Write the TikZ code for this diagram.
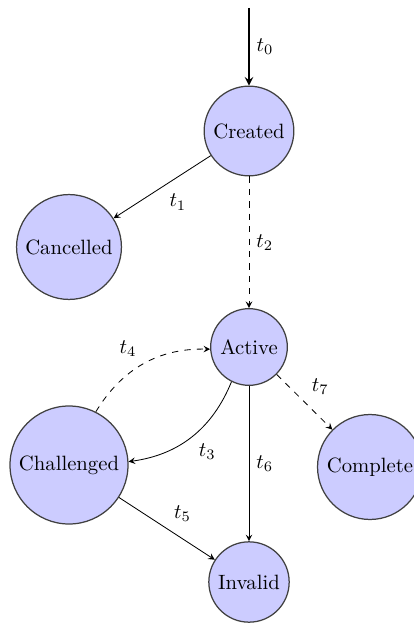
\documentclass[tikz,border=0pt]{standalone}
\usetikzlibrary{arrows}
\begin{document}
\begin{tikzpicture}[x={(0.4831pt,0)},y={(0,-0.4831pt)},>=stealth,
  state/.style={circle,draw=black!75,fill=blue!20,semithick,inner sep=3.33pt}]
\useasboundingbox (0,0) rectangle (414,623);
\node[state] (created) at (249,131) {Created};
\node[state] (cancelled) at (69,247) {Cancelled};
\node[state] (active) at (249,347) {Active};
\node[state] (challenged) at (69,465) {Challenged};
\node[state] (complete) at (370,467) {Complete};
\node[state] (invalid) at (249,582) {Invalid};
\coordinate (start) at (249,8);

\draw[->,thick] (start) -- node[auto] {$t_0$} (created);
\draw[->] (created) -- node[auto] {$t_1$} (cancelled);
\draw[->,dashed] (created) -- node[auto] {$t_2$} (active);
\draw[->] (active) to[bend left=30] node[auto] {$t_3$} (challenged);
\draw[->,dashed] (challenged) to[bend left=30] node[auto] {$t_4$} (active);
\draw[->] (challenged) -- node[auto] {$t_5$} (invalid);
\draw[->] (active) -- node[auto] {$t_6$} (invalid);
\draw[->,dashed] (active) -- node[auto] {$t_7$} (complete);
\end{tikzpicture}
\end{document}
